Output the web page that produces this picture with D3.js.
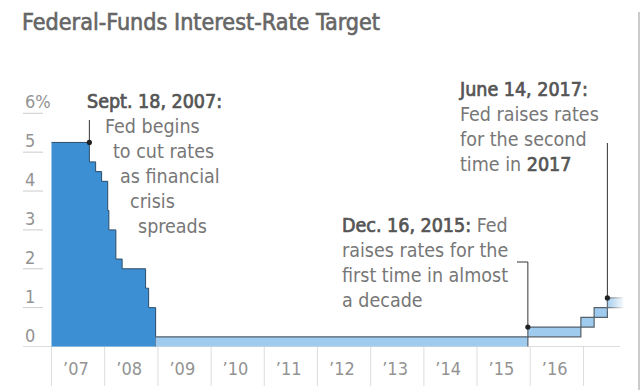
<!DOCTYPE html>
<html>
<head>
<meta charset="utf-8">
<script src="https://cdn.jsdelivr.net/npm/d3@7"></script>
<style>
  body { margin: 0; background: #fff; }
  svg { display: block; }
  text { font-family: "Liberation Sans Narrow", "DejaVu Sans Condensed", "Roboto", sans-serif; }
</style>
</head>
<body>
<div id="chart"></div>
<script>
const FRAME_WIDTH = 644;
const FRAME_HEIGHT = 390;

// single target rate, before the Fed moved to a range
const targetDates = ["2007-01-01", "2007-09-18", "2007-10-31", "2007-12-11", "2008-01-22",
                     "2008-01-30", "2008-03-18", "2008-04-30", "2008-10-08", "2008-10-29", "2008-12-16"];
const targetRates = [5.25, 4.75, 4.5, 4.25, 3.5, 3.0, 2.25, 2.0, 1.5, 1.0, 1.0];

// target range, lower and upper bound
const rangeDates = ["2008-12-16", "2015-12-16", "2016-12-14", "2017-03-15", "2017-06-14", "2017-09-30"];
const rangeLow  = [0, 0.25, 0.5, 0.75, 1.0, 1.0];
const rangeHigh = [0.25, 0.5, 0.75, 1.0, 1.25, 1.25];

const yTicks = [0, 1, 2, 3, 4, 5, 6];
const yearTicks = [2007, 2008, 2009, 2010, 2011, 2012, 2013, 2014, 2015, 2016, 2017];
const yearLabels = ["’07", "’08", "’09", "’10", "’11", "’12", "’13", "’14", "’15", "’16"];

const parse = d3.timeParse("%Y-%m-%d");
const target = targetDates.map((d, i) => ({date: parse(d), v: targetRates[i]}));
const range = rangeDates.map((d, i) => ({date: parse(d), lo: rangeLow[i], hi: rangeHigh[i]}));

const X_SCALE = d3.scaleTime()
                  .domain([new Date(2007, 0, 1), new Date(2017, 0, 1)])
                  .range([51.5, 583.5]);
const Y_SCALE = d3.scaleLinear()
                  .domain([0, 6])
                  .range([346.5, 113.3]);

const svg = d3.select("#chart")
              .append("svg")
                .attr("width", FRAME_WIDTH)
                .attr("height", FRAME_HEIGHT);

// title (medium weight faked with a thin stroke)
svg.append("text")
    .attr("x", 22).attr("y", 30)
    .attr("font-size", 23)
    .attr("fill", "#666")
    .attr("stroke", "#666").attr("stroke-width", 0.6)
    .attr("textLength", 358)
    .attr("lengthAdjust", "spacingAndGlyphs")
    .text("Federal-Funds Interest-Rate Target");

// right border
svg.append("line")
    .attr("x1", 639).attr("x2", 639)
    .attr("y1", 12).attr("y2", FRAME_HEIGHT)
    .attr("stroke", "#ccc").attr("stroke-width", 2);

// y ticks: short rule with label above it
const yAxis = svg.append("g");
yAxis.selectAll("line")
    .data(yTicks).enter()
    .append("line")
      .attr("x1", 23).attr("x2", 43)
      .attr("y1", d => Y_SCALE(d)).attr("y2", d => Y_SCALE(d))
      .attr("stroke", "#ccc");
yAxis.selectAll("text")
    .data(yTicks).enter()
    .append("text")
      .attr("x", 25)
      .attr("y", d => Y_SCALE(d) - 5)
      .attr("font-size", 18)
      .attr("fill", "#939393")
      .text(d => d === 6 ? d + "%" : d);

// x axis
svg.append("line")
    .attr("x1", 23).attr("x2", 620)
    .attr("y1", Y_SCALE(0)).attr("y2", Y_SCALE(0))
    .attr("stroke", "#ddd");
svg.selectAll(".ytick")
    .data(yearTicks).enter()
    .append("line")
      .attr("class", "ytick")
      .attr("x1", d => X_SCALE(new Date(d, 0, 1))).attr("x2", d => X_SCALE(new Date(d, 0, 1)))
      .attr("y1", Y_SCALE(0)).attr("y2", 386)
      .attr("stroke", "#ddd");
svg.selectAll(".ylab")
    .data(yearLabels).enter()
    .append("text")
      .attr("class", "ylab")
      .attr("x", (d, i) => X_SCALE(new Date(2007 + i, 6, 1)) - 2)
      .attr("y", 375)
      .attr("text-anchor", "middle")
      .attr("font-size", 18)
      .attr("fill", "#939393")
      .text(d => d);

// dark area for the single target
const areaT = d3.area()
                .x(d => X_SCALE(d.date))
                .y0(Y_SCALE(0))
                .y1(d => Y_SCALE(d.v))
                .curve(d3.curveStepAfter);
svg.append("path")
    .datum(target)
    .attr("d", areaT)
    .attr("fill", "#3d8fd3");
svg.append("path")
    .datum(target)
    .attr("d", d3.line().x(d => X_SCALE(d.date)).y(d => Y_SCALE(d.v)).curve(d3.curveStepAfter))
    .attr("fill", "none")
    .attr("stroke", "#2d4d68")
    .attr("stroke-width", 1);
// drop from last target to the range
svg.append("line")
    .attr("x1", X_SCALE(range[0].date)).attr("x2", X_SCALE(range[0].date))
    .attr("y1", Y_SCALE(target[target.length - 1].v)).attr("y2", Y_SCALE(0))
    .attr("stroke", "#2d4d68");

// light band for the range
const areaR = d3.area()
                .x(d => X_SCALE(d.date))
                .y0(d => Y_SCALE(d.lo))
                .y1(d => Y_SCALE(d.hi))
                .curve(d3.curveStepAfter);
svg.append("path")
    .datum(range)
    .attr("d", areaR)
    .attr("fill", "#9fcbee");
const stepLine = d3.line().x(d => X_SCALE(d.date)).curve(d3.curveStepAfter);
svg.append("path")
    .datum(range)
    .attr("d", stepLine.y(d => Y_SCALE(d.hi)))
    .attr("fill", "none").attr("stroke", "#55616b").attr("stroke-width", 1.2);
svg.append("path")
    .datum(range.slice(1))
    .attr("d", stepLine.y(d => Y_SCALE(d.lo)))
    .attr("fill", "none").attr("stroke", "#55616b").attr("stroke-width", 1.2);
svg.append("line")
    .attr("x1", X_SCALE(range[1].date)).attr("x2", X_SCALE(range[1].date))
    .attr("y1", Y_SCALE(0)).attr("y2", Y_SCALE(0.25))
    .attr("stroke", "#55616b").attr("stroke-width", 1.2);

// fade out at the right end
const grad = svg.append("defs").append("linearGradient")
                .attr("id", "fade");
grad.append("stop").attr("offset", "0%").attr("stop-color", "#fff").attr("stop-opacity", 0);
grad.append("stop").attr("offset", "100%").attr("stop-color", "#fff").attr("stop-opacity", 1);
svg.append("rect")
    .attr("x", 606).attr("y", Y_SCALE(1.4))
    .attr("width", X_SCALE(range[range.length - 1].date) - 606 + 2)
    .attr("height", Y_SCALE(0.9) - Y_SCALE(1.4))
    .attr("fill", "url(#fade)");

// annotations; the bold parts are a medium weight, faked with a thin stroke
function note(x, y, lines, lh) {
  const t = svg.append("text").attr("font-size", 19.5).attr("fill", "#777");
  lines.forEach((ln, i) => {
    const row = t.append("tspan").attr("x", x + (ln.dx || 0)).attr("y", y + i * lh);
    ln.parts.forEach(p => {
      const s = row.append("tspan")
         .attr("fill", p.b ? "#555" : "#777")
         .text(p.t);
      if (p.b) s.attr("stroke", "#555").attr("stroke-width", 0.7);
    });
  });
}

function pointer(pts, dot) {
  svg.append("path")
      .attr("d", d3.line()(pts))
      .attr("fill", "none")
      .attr("stroke", "#333")
      .attr("stroke-width", 1);
  svg.append("circle")
      .attr("cx", dot[0]).attr("cy", dot[1]).attr("r", 2.6)
      .attr("fill", "#222");
}

// Sept. 18, 2007
const xS = X_SCALE(target[1].date);
pointer([[xS, 120], [xS, Y_SCALE(5.25)]], [xS, Y_SCALE(5.25)]);
note(87, 108, [
  {parts: [{t: "Sept. 18, 2007:", b: true}]},
  {dx: 18, parts: [{t: "Fed begins"}]},
  {dx: 26, parts: [{t: "to cut rates"}]},
  {dx: 33, parts: [{t: "as financial"}]},
  {dx: 43, parts: [{t: "crisis"}]},
  {dx: 51, parts: [{t: "spreads"}]}
], 25);

// Dec. 16, 2015
const xD = X_SCALE(range[1].date);
pointer([[517, 262], [xD, 262], [xD, Y_SCALE(0.5)]], [xD, Y_SCALE(0.5)]);
note(342, 232, [
  {parts: [{t: "Dec. 16, 2015:", b: true}, {t: " Fed"}]},
  {parts: [{t: "raises rates for the"}]},
  {parts: [{t: "first time in almost"}]},
  {parts: [{t: "a decade"}]}
], 25);

// June 14, 2017
const xJ = X_SCALE(range[4].date);
pointer([[xJ, 143], [xJ, Y_SCALE(1.25)]], [xJ, Y_SCALE(1.25)]);
note(460, 96, [
  {parts: [{t: "June 14, 2017:", b: true}]},
  {parts: [{t: "Fed raises rates"}]},
  {parts: [{t: "for the second"}]},
  {parts: [{t: "time in "}, {t: "2017", b: true}]}
], 25);
</script>
</body>
</html>
